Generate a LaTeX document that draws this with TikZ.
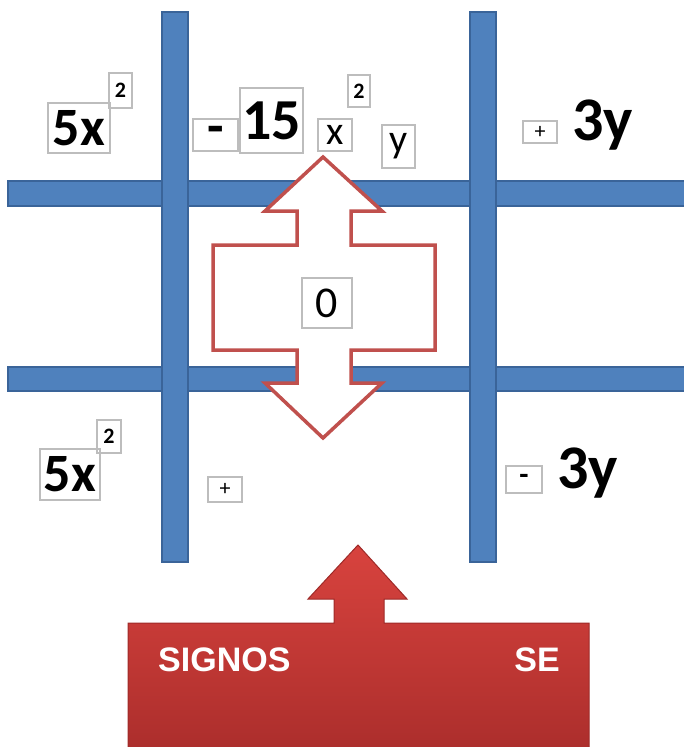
\documentclass[tikz,border=0pt]{standalone}
\usepackage{fontspec}
\setmainfont{Carlito}
\newfontfamily\arialfont{Liberation Sans}
\definecolor{barblue}{HTML}{4F81BD}
\definecolor{baredge}{HTML}{3A6499}
\definecolor{arrowred}{HTML}{C0504D}
\definecolor{redtop}{HTML}{D8433E}
\definecolor{redbot}{HTML}{AC2E2C}
\definecolor{rededge}{HTML}{9E2A28}
\definecolor{boxgray}{HTML}{BDBDBD}
\tikzset{
  bar/.style={fill=barblue, draw=baredge, line width=1.5},
  tbox/.style={draw=boxgray, line width=1.2, inner sep=0, outer sep=0, align=center},
  bigb/.style={font=\bfseries\fontsize{54}{54}\selectfont},
  supb/.style={font=\bfseries\fontsize{22}{22}\selectfont},
  reg/.style={font=\fontsize{40}{40}\selectfont},
  signb/.style={font=\fontsize{22}{22}\selectfont},
  termb/.style={font=\bfseries\fontsize{62}{62}\selectfont, inner sep=0, anchor=base west},
  lbl/.style={font=\arialfont\bfseries\fontsize{34}{34}\selectfont, text=white, inner sep=0}
}
\begin{document}
\begin{tikzpicture}[x=1pt,y=-1pt]
\useasboundingbox (0,0) rectangle (683,747);
% grid bars
\draw[bar] (8,181) rectangle (690,206);
\draw[bar] (8,367) rectangle (690,391);
\draw[bar] (162,12) rectangle (188,562);
\draw[bar] (470,12) rectangle (496,562);
% double arrow
\draw[fill=white, draw=arrowred, line width=3.5, line join=miter]
  (323,157) -- (382,211) -- (351,211) -- (351,245) -- (435,245) -- (435,350)
  -- (351,350) -- (351,383) -- (382,383) -- (323,438) -- (265,383) -- (297,383)
  -- (297,350) -- (213,350) -- (213,245) -- (297,245) -- (297,211) -- (265,211) -- cycle;
% top row
\node[tbox, bigb, minimum width=62, minimum height=50] (a5x) at (79,128) {5x};
\node[tbox, supb, minimum width=23, minimum height=35] (a2) at (120.5,90.5) {2};
\node[tbox, bigb, minimum width=45, minimum height=32] (bminus) at (215.5,135) {-};
\node[tbox, font=\bfseries\fontsize{58}{58}\selectfont, minimum width=63, minimum height=65] (b15) at (271.5,120.5) {15};
\node[tbox, reg, minimum width=34, minimum height=32] (bx) at (335,135) {x};
\node[tbox, supb, minimum width=22, minimum height=32] (b2) at (359,91) {2};
\node[tbox, reg, minimum width=33, minimum height=43] (by) at (398.5,146.5) {y};
\node[tbox, signb, minimum width=34, minimum height=22] (cplus) at (540,132) {+};
\node[termb] (c3y) at (572,140) {3y};
% middle
\node[tbox, fill=white, font=\fontsize{44}{44}\selectfont, minimum width=50, minimum height=50] (zero) at (327,303) {0};
% bottom row
\node[tbox, bigb, minimum width=60, minimum height=51] (d5x) at (70,474.5) {5x};
\node[tbox, supb, minimum width=24, minimum height=33] (d2) at (109,436.5) {2};
\node[tbox, signb, minimum width=34, minimum height=25] (eplus) at (225,489.5) {+};
\node[tbox, font=\bfseries\fontsize{30}{30}\selectfont, minimum width=36, minimum height=27] (fminus) at (524,479.5) {-};
\node[termb] (f3y) at (557,488) {3y};
% red block arrow
\shade[top color=redtop, bottom color=redbot, draw=rededge, line width=1]
  (128,749) -- (128,623) -- (334,623) -- (334,599) -- (308,599) -- (358,545)
  -- (407,599) -- (384,599) -- (384,623) -- (589,623) -- (589,749) -- cycle;
\node[lbl, anchor=base west] (signos) at (158,671) {SIGNOS};
\node[lbl, anchor=base east] (se) at (560,671) {SE};
\end{tikzpicture}
\end{document}
